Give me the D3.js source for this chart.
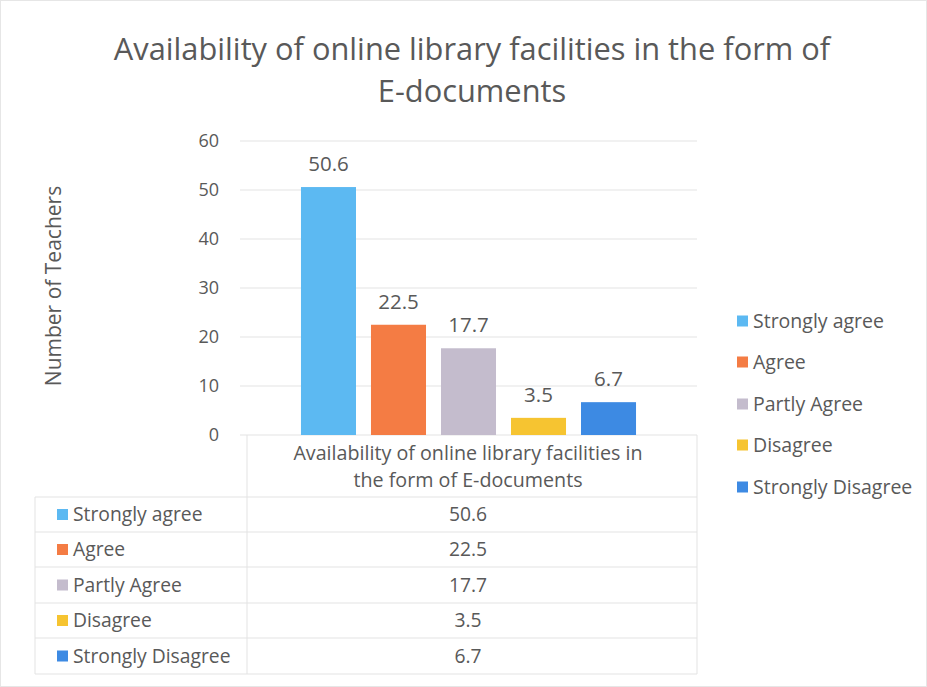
<!DOCTYPE html>
<html>
<head>
<meta charset="utf-8">
<script src="https://cdn.jsdelivr.net/npm/d3@7"></script>
<style>
  html, body { margin: 0; padding: 0; background: #fff; }
  svg { display: block; }
  text { font-family: "Open Sans", Lato, sans-serif; fill: #595959; }
</style>
</head>
<body>
<svg id="chart" width="927" height="687"></svg>
<script>
const titleLines = ["Availability of online library facilities in the form of", "E-documents"];
const categoryLines = ["Availability of online library facilities in", "the form of E-documents"];
const yAxisTitle = "Number of Teachers";
const seriesNames = ["Strongly agree", "Agree", "Partly Agree", "Disagree", "Strongly Disagree"];
const seriesValues = [50.6, 22.5, 17.7, 3.5, 6.7];
const seriesColors = ["#5cb9f2", "#f47c44", "#c4bccd", "#f6c431", "#3d8ae3"];
const yTicks = [0, 10, 20, 30, 40, 50, 60];

const svg = d3.select("#chart");

// faint outer frame
svg.append("rect").attr("x", 0.5).attr("y", 0.5).attr("width", 926).attr("height", 686)
  .attr("fill", "none").attr("stroke", "#e6e6e6");

const plotLeft = 240, plotRight = 697, plotTop = 141, plotBottom = 435;

const y = d3.scaleLinear().domain([0, 60]).range([plotBottom, plotTop]);
const x = d3.scaleBand().domain(seriesNames).range([plotLeft, plotRight])
  .paddingInner(0.214).paddingOuter(0.871);
const color = d3.scaleOrdinal().domain(seriesNames).range(seriesColors);

// title
svg.append("g").selectAll("text").data(titleLines).join("text")
  .attr("x", 472).attr("y", (d, i) => 60 + i * 42)
  .attr("text-anchor", "middle").attr("font-size", 30.8)
  .text(d => d);

// gridlines
svg.append("g").selectAll("line").data(yTicks).join("line")
  .attr("x1", plotLeft).attr("x2", plotRight)
  .attr("y1", d => y(d)).attr("y2", d => y(d))
  .attr("stroke", "#e3e3e3").attr("stroke-width", 1);

// y axis
const yAxis = svg.append("g").attr("transform", `translate(${plotLeft},0)`)
  .call(d3.axisLeft(y).tickValues(yTicks).tickSize(0).tickPadding(21));
yAxis.select(".domain").remove();
yAxis.selectAll("text").attr("font-size", 18).style("font-family", "'Open Sans', sans-serif").attr("fill", "#595959");

// y title
svg.append("text").attr("transform", "translate(61,286) rotate(-90)")
  .attr("text-anchor", "middle").attr("font-size", 21).text(yAxisTitle);

// bars
svg.append("g").selectAll("rect").data(seriesNames).join("rect")
  .attr("x", d => x(d)).attr("width", x.bandwidth())
  .attr("y", (d, i) => y(seriesValues[i]))
  .attr("height", (d, i) => y(0) - y(seriesValues[i]))
  .attr("fill", d => color(d));

// data labels
svg.append("g").selectAll("text").data(seriesNames).join("text")
  .attr("x", d => x(d) + x.bandwidth() / 2)
  .attr("y", (d, i) => y(seriesValues[i]) - 16)
  .attr("text-anchor", "middle").attr("font-size", 20.5)
  .attr("fill", "#404040")
  .text((d, i) => seriesValues[i]);

// data table
const tableLeft = 35, colSplit = 247, tableRight = 697;
const rowLines = [497, 532, 567, 603, 638, 674];
const tg = svg.append("g");
tg.selectAll("line.h").data(rowLines).join("line").attr("class", "h")
  .attr("x1", tableLeft).attr("x2", tableRight)
  .attr("y1", d => d).attr("y2", d => d)
  .attr("stroke", "#e3e3e3");
tg.append("line").attr("x1", colSplit).attr("x2", colSplit).attr("y1", plotBottom).attr("y2", 674).attr("stroke", "#e3e3e3");
tg.append("line").attr("x1", tableRight).attr("x2", tableRight).attr("y1", plotBottom).attr("y2", 674).attr("stroke", "#e3e3e3");
tg.append("line").attr("x1", tableLeft).attr("x2", tableLeft).attr("y1", 497).attr("y2", 674).attr("stroke", "#e3e3e3");

// category label
svg.append("g").selectAll("text").data(categoryLines).join("text")
  .attr("x", 468).attr("y", (d, i) => 460 + i * 27)
  .attr("text-anchor", "middle").attr("font-size", 19.7)
  .text(d => d);

const rowY = i => (rowLines[i] + rowLines[i + 1]) / 2;
const rows = tg.selectAll("g.row").data(seriesNames).join("g").attr("class", "row");
rows.append("rect").attr("x", 57).attr("y", (d, i) => rowY(i) - 5.5)
  .attr("width", 11).attr("height", 11).attr("fill", d => color(d));
rows.append("text").attr("x", 73).attr("y", (d, i) => rowY(i) + 6.5)
  .attr("font-size", 19.3).text(d => d);
rows.append("text").attr("x", 468).attr("y", (d, i) => rowY(i) + 6.5)
  .attr("text-anchor", "middle").attr("font-size", 19.3)
  .text((d, i) => seriesValues[i]);

// legend
const legendY = [321, 362, 404, 445, 487];
const lg = svg.append("g").selectAll("g").data(seriesNames).join("g")
  .attr("transform", (d, i) => `translate(737,${legendY[i]})`);
lg.append("rect").attr("x", 0).attr("y", -5.5).attr("width", 11).attr("height", 11)
  .attr("fill", d => color(d));
lg.append("text").attr("x", 16).attr("y", 6.5).attr("font-size", 19.5).text(d => d);
</script>
</body>
</html>
